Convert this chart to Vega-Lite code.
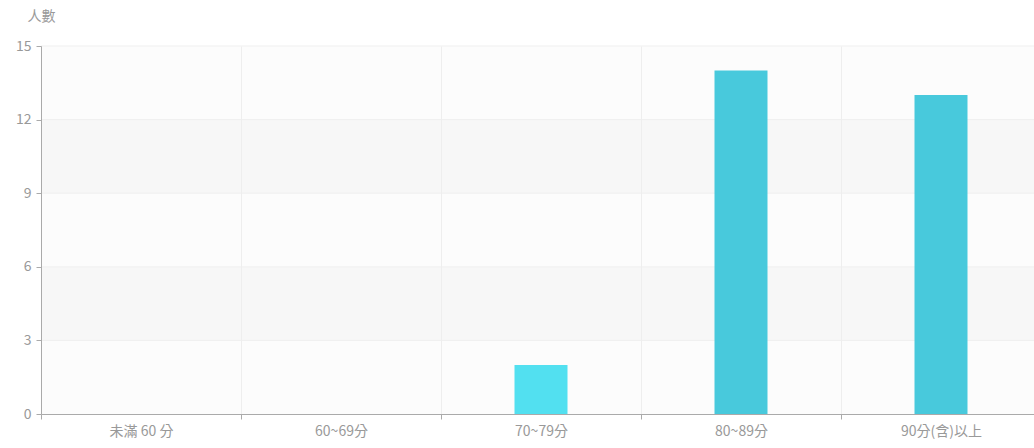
{
  "$schema": "https://vega.github.io/schema/vega-lite/v6.json",
  "width": 1000,
  "height": 368,
  "autosize": {"type": "none"},
  "padding": {"left": 41, "top": 46, "right": 0, "bottom": 34},
  "background": "#ffffff",
  "config": {
    "view": {"stroke": null},
    "font": "Noto Sans CJK TC",
    "axis": {
      "labelColor": "#999999",
      "labelFontSize": 14,
      "domainColor": "#aaaaaa",
      "tickColor": "#aaaaaa",
      "tickSize": 5,
      "gridColor": "#eeeeee",
      "titleColor": "#999999",
      "titleFontWeight": "normal",
      "titleFontSize": 14
    }
  },
  "datasets": {
    "scores": [
      {"range": "未滿 60 分", "count": 0, "group": "a"},
      {"range": "60~69分", "count": 0, "group": "a"},
      {"range": "70~79分", "count": 2, "group": "b"},
      {"range": "80~89分", "count": 14, "group": "a"},
      {"range": "90分(含)以上", "count": 13, "group": "a"}
    ],
    "bands": [
      {"lo": 0, "hi": 3, "shade": "light"},
      {"lo": 3, "hi": 6, "shade": "dark"},
      {"lo": 6, "hi": 9, "shade": "light"},
      {"lo": 9, "hi": 12, "shade": "dark"},
      {"lo": 12, "hi": 15, "shade": "light"}
    ]
  },
  "layer": [
    {
      "data": {"name": "bands"},
      "mark": {"type": "rect"},
      "encoding": {
        "x": {"value": 0},
        "x2": {"value": "width"},
        "y": {"field": "lo", "type": "quantitative", "scale": {"domain": [0, 15], "nice": false, "zero": true}},
        "y2": {"field": "hi"},
        "color": {"field": "shade", "type": "nominal", "scale": {"domain": ["light", "dark"], "range": ["#fcfcfc", "#f7f7f7"]}, "legend": null}
      }
    },
    {
      "data": {"name": "bands"},
      "mark": {"type": "rule", "color": "#efefef", "strokeWidth": 1},
      "encoding": {
        "x": {"value": 0},
        "x2": {"value": "width"},
        "y": {"field": "hi", "type": "quantitative", "scale": {"domain": [0, 15], "nice": false}}
      }
    },
    {
      "data": {"name": "scores"},
      "mark": {"type": "bar", "width": {"band": 0.265}},
      "encoding": {
        "x": {
          "field": "range",
          "type": "nominal",
          "sort": null,
          "scale": {"paddingInner": 0, "paddingOuter": 0},
          "axis": {
            "title": null,
            "labelAngle": 0,
            "tickBand": "extent",
            "grid": true,
            "labelPadding": 5,
            "zindex": 1
          }
        },
        "y": {
          "field": "count",
          "type": "quantitative",
          "scale": {"domain": [0, 15], "nice": false},
          "axis": {
            "values": [0, 3, 6, 9, 12, 15],
            "grid": false,
            "title": "人數",
            "titleAngle": 0,
            "titleX": 0,
            "titleY": -30,
            "titleAlign": "center",
            "titleBaseline": "middle",
            "labelPadding": 5,
            "zindex": 1
          }
        },
        "color": {
          "field": "group",
          "type": "nominal",
          "scale": {"domain": ["a", "b"], "range": ["#48c9dc", "#52e0f0"]},
          "legend": null
        }
      }
    }
  ],
  "resolve": {"scale": {"color": "independent"}}
}
